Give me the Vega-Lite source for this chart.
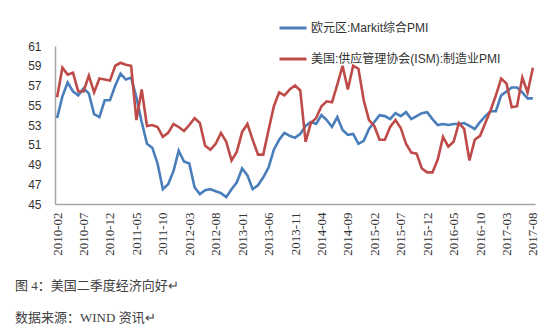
{
  "$schema": "https://vega.github.io/schema/vega-lite/v6.json",
  "width": 480,
  "height": 158,
  "autosize": {"type": "none"},
  "padding": {"left": 55, "top": 46, "right": 15, "bottom": 124},
  "background": "white",
  "title": {
    "text": "图 4：美国二季度经济向好↵",
    "subtitle": "数据来源：WIND 资讯↵",
    "orient": "bottom",
    "anchor": "start",
    "frame": "group",
    "dx": -40,
    "offset": 25,
    "font": "Liberation Serif, Noto Sans CJK SC",
    "fontSize": 13,
    "fontWeight": "normal",
    "color": "#404040",
    "subtitleFont": "Liberation Serif, Noto Sans CJK SC",
    "subtitleFontSize": 13,
    "subtitleColor": "#404040",
    "subtitlePadding": 19
  },
  "data": {
    "values": [
      {"m": "2010-02", "eu": 53.7, "us": 55.8},
      {"m": "2010-03", "eu": 55.9, "us": 58.8},
      {"m": "2010-04", "eu": 57.3, "us": 58.1},
      {"m": "2010-05", "eu": 56.4, "us": 58.3},
      {"m": "2010-06", "eu": 56.0, "us": 56.4},
      {"m": "2010-07", "eu": 56.7, "us": 56.4},
      {"m": "2010-08", "eu": 56.2, "us": 58.0},
      {"m": "2010-09", "eu": 54.1, "us": 56.3},
      {"m": "2010-10", "eu": 53.8, "us": 57.7},
      {"m": "2010-11", "eu": 55.5, "us": 57.6},
      {"m": "2010-12", "eu": 55.5, "us": 57.5},
      {"m": "2011-01", "eu": 57.0, "us": 59.0},
      {"m": "2011-02", "eu": 58.2, "us": 59.3},
      {"m": "2011-03", "eu": 57.6, "us": 59.1},
      {"m": "2011-04", "eu": 57.8, "us": 59.0},
      {"m": "2011-05", "eu": 55.8, "us": 53.5},
      {"m": "2011-06", "eu": 53.3, "us": 56.6},
      {"m": "2011-07", "eu": 51.1, "us": 52.9},
      {"m": "2011-08", "eu": 50.7, "us": 53.0},
      {"m": "2011-09", "eu": 49.1, "us": 52.8},
      {"m": "2011-10", "eu": 46.5, "us": 51.8},
      {"m": "2011-11", "eu": 47.0, "us": 52.2},
      {"m": "2011-12", "eu": 48.3, "us": 53.1},
      {"m": "2012-01", "eu": 50.4, "us": 52.8},
      {"m": "2012-02", "eu": 49.3, "us": 52.4},
      {"m": "2012-03", "eu": 49.1, "us": 53.0},
      {"m": "2012-04", "eu": 46.7, "us": 53.7},
      {"m": "2012-05", "eu": 46.0, "us": 53.2},
      {"m": "2012-06", "eu": 46.4, "us": 50.9},
      {"m": "2012-07", "eu": 46.5, "us": 50.5},
      {"m": "2012-08", "eu": 46.3, "us": 51.1},
      {"m": "2012-09", "eu": 46.1, "us": 52.2},
      {"m": "2012-10", "eu": 45.7, "us": 51.3},
      {"m": "2012-11", "eu": 46.5, "us": 49.4},
      {"m": "2012-12", "eu": 47.2, "us": 50.3},
      {"m": "2013-01", "eu": 48.6, "us": 52.3},
      {"m": "2013-02", "eu": 47.9, "us": 53.1},
      {"m": "2013-03", "eu": 46.5, "us": 51.5},
      {"m": "2013-04", "eu": 46.9, "us": 50.0},
      {"m": "2013-05", "eu": 47.7, "us": 50.0},
      {"m": "2013-06", "eu": 48.7, "us": 52.5},
      {"m": "2013-07", "eu": 50.5, "us": 54.9},
      {"m": "2013-08", "eu": 51.5, "us": 56.3},
      {"m": "2013-09", "eu": 52.2, "us": 56.0},
      {"m": "2013-10", "eu": 51.9, "us": 56.6},
      {"m": "2013-11", "eu": 51.7, "us": 57.0},
      {"m": "2013-12", "eu": 52.1, "us": 56.5},
      {"m": "2014-01", "eu": 52.9, "us": 51.3},
      {"m": "2014-02", "eu": 53.3, "us": 53.2},
      {"m": "2014-03", "eu": 53.1, "us": 53.7},
      {"m": "2014-04", "eu": 54.0, "us": 54.9},
      {"m": "2014-05", "eu": 53.5, "us": 55.4},
      {"m": "2014-06", "eu": 52.8, "us": 55.3},
      {"m": "2014-07", "eu": 53.8, "us": 57.1},
      {"m": "2014-08", "eu": 52.5, "us": 59.0},
      {"m": "2014-09", "eu": 52.0, "us": 56.6},
      {"m": "2014-10", "eu": 52.1, "us": 59.0},
      {"m": "2014-11", "eu": 51.1, "us": 58.7},
      {"m": "2014-12", "eu": 51.4, "us": 55.5},
      {"m": "2015-01", "eu": 52.6, "us": 53.5},
      {"m": "2015-02", "eu": 53.3, "us": 52.9},
      {"m": "2015-03", "eu": 54.0, "us": 51.5},
      {"m": "2015-04", "eu": 53.9, "us": 51.5},
      {"m": "2015-05", "eu": 53.6, "us": 52.8},
      {"m": "2015-06", "eu": 54.2, "us": 53.5},
      {"m": "2015-07", "eu": 53.9, "us": 52.7},
      {"m": "2015-08", "eu": 54.3, "us": 51.1},
      {"m": "2015-09", "eu": 53.6, "us": 50.2},
      {"m": "2015-10", "eu": 53.9, "us": 50.1},
      {"m": "2015-11", "eu": 54.2, "us": 48.6},
      {"m": "2015-12", "eu": 54.3, "us": 48.2},
      {"m": "2016-01", "eu": 53.6, "us": 48.2},
      {"m": "2016-02", "eu": 53.0, "us": 49.5},
      {"m": "2016-03", "eu": 53.1, "us": 51.8},
      {"m": "2016-04", "eu": 53.0, "us": 50.8},
      {"m": "2016-05", "eu": 53.1, "us": 51.3},
      {"m": "2016-06", "eu": 53.1, "us": 53.2},
      {"m": "2016-07", "eu": 53.2, "us": 52.6},
      {"m": "2016-08", "eu": 52.9, "us": 49.4},
      {"m": "2016-09", "eu": 52.6, "us": 51.5},
      {"m": "2016-10", "eu": 53.3, "us": 51.9},
      {"m": "2016-11", "eu": 53.9, "us": 53.2},
      {"m": "2016-12", "eu": 54.4, "us": 54.5},
      {"m": "2017-01", "eu": 54.4, "us": 56.0},
      {"m": "2017-02", "eu": 56.0, "us": 57.7},
      {"m": "2017-03", "eu": 56.4, "us": 57.2},
      {"m": "2017-04", "eu": 56.8, "us": 54.8},
      {"m": "2017-05", "eu": 56.8, "us": 54.9},
      {"m": "2017-06", "eu": 56.3, "us": 57.8},
      {"m": "2017-07", "eu": 55.7, "us": 56.3},
      {"m": "2017-08", "eu": 55.7, "us": 58.8}
    ]
  },
  "transform": [{"fold": ["eu", "us"], "as": ["series", "value"]}],
  "mark": {"type": "line", "strokeWidth": 2.6, "interpolate": "linear"},
  "encoding": {
    "x": {
      "field": "m",
      "type": "ordinal",
      "sort": null,
      "scale": {"type": "point", "padding": 0.4},
      "axis": {
        "title": null,
        "values": ["2010-02", "2010-07", "2010-12", "2011-05", "2011-10", "2012-03", "2012-08", "2013-01", "2013-06", "2013-11", "2014-04", "2014-09", "2015-02", "2015-07", "2015-12", "2016-05", "2016-10", "2017-03", "2017-08"],
        "labelAngle": -90,
        "labelFont": "Liberation Serif",
        "labelFontSize": 13,
        "labelColor": "#333333",
        "labelPadding": 8,
        "ticks": false,
        "tickSize": 0,
        "domainColor": "#a6a6a6",
        "domainWidth": 1.5,
        "grid": false
      }
    },
    "y": {
      "field": "value",
      "type": "quantitative",
      "scale": {"domain": [45, 61], "nice": false, "zero": false},
      "axis": {
        "title": null,
        "values": [45, 47, 49, 51, 53, 55, 57, 59, 61],
        "labelFont": "Liberation Sans",
        "labelFontSize": 12,
        "labelColor": "#333333",
        "labelPadding": 14,
        "ticks": false,
        "tickSize": 0,
        "domainColor": "#a6a6a6",
        "domainWidth": 1.5,
        "grid": false
      }
    },
    "color": {
      "field": "series",
      "type": "nominal",
      "scale": {"domain": ["eu", "us"], "range": ["#4A7EBB", "#BE4B48"]},
      "legend": {
        "title": null,
        "orient": "none",
        "legendX": 223,
        "legendY": -33,
        "direction": "vertical",
        "padding": 0,
        "symbolType": "stroke",
        "symbolSize": 729,
        "symbolStrokeWidth": 3,
        "labelFont": "Liberation Sans, Noto Sans CJK SC",
        "labelFontSize": 12,
        "labelColor": "#333333",
        "labelOffset": 3,
        "rowPadding": 10,
        "labelLimit": 400,
        "labelExpr": "datum.value == 'eu' ? '欧元区:Markit综合PMI' : '美国:供应管理协会(ISM):制造业PMI'"
      }
    }
  },
  "config": {"view": {"stroke": null}}
}
